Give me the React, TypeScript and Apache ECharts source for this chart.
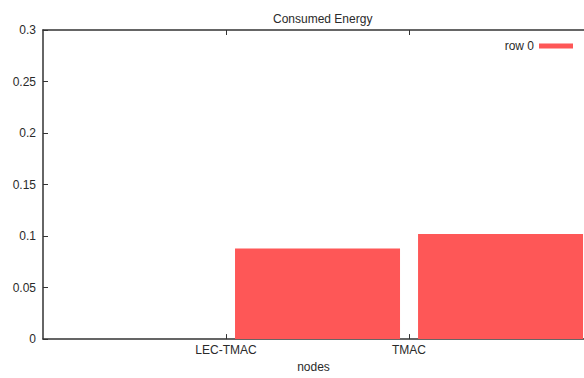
import React, { useEffect, useRef } from "react";
import * as echarts from "echarts";

const title = "Consumed Energy";
const xAxisTitle = "nodes";
const seriesName = "row 0";
const categories = ["LEC-TMAC", "TMAC"];
const values = [0.088, 0.102];
const yTicks = [0, 0.05, 0.1, 0.15, 0.2, 0.25, 0.3];
const xRange = [-1, 1.956];

const FONT = "Liberation Sans, Arial, Helvetica, sans-serif";
const TEXT = "#2a2a2a";
const LINE = "#333333";
const RED = "#fe5757";

export default function App() {
  const ref = useRef<HTMLDivElement>(null);
  useEffect(() => {
    if (!ref.current) return;
    const chart = echarts.init(ref.current, undefined, { renderer: "svg" });
    const catIdx = categories.map((_, i) => i);
    const barData = values.map((v, i) => [i + 0.5, v]);
    const yInterval = yTicks[1] - yTicks[0];
    const xCommon = {
      type: "value",
      min: xRange[0],
      max: xRange[1],
      interval: 1,
      splitLine: { show: false },
    };
    chart.setOption({
      animation: false,
      textStyle: { fontFamily: FONT },
      title: {
        text: title,
        left: 268,
        top: 8,
        textStyle: { fontSize: 12, fontWeight: "normal", color: TEXT, fontFamily: FONT },
      },
      legend: {
        data: [seriesName],
        right: 6,
        top: 35,
        align: "right",
        icon: "rect",
        itemWidth: 34,
        itemHeight: 5,
        textStyle: { fontSize: 12, color: TEXT, fontFamily: FONT },
      },
      grid: { left: 43, right: 0, top: 30, bottom: 33 },
      xAxis: [
        {
          ...xCommon,
          position: "bottom",
          name: xAxisTitle,
          nameLocation: "middle",
          nameGap: 21,
          nameTextStyle: { fontSize: 12, color: TEXT, fontFamily: FONT },
          axisLine: { show: true, onZero: false, lineStyle: { color: LINE, width: 1.5 } },
          axisTick: { show: true, inside: true, length: 5, customValues: catIdx, lineStyle: { color: LINE } },
          axisLabel: {
            show: true,
            customValues: catIdx,
            formatter: (v: number) => categories[Math.round(v)] ?? "",
            fontSize: 12,
            color: TEXT,
            margin: 5,
            fontFamily: FONT,
          },
        },
        {
          ...xCommon,
          position: "top",
          axisLine: { show: true, onZero: false, lineStyle: { color: LINE, width: 1.5 } },
          axisTick: { show: true, inside: true, length: 5, customValues: catIdx, lineStyle: { color: LINE } },
          axisLabel: { show: false },
        },
      ],
      yAxis: {
        type: "value",
        position: "left",
        min: yTicks[0],
        max: yTicks[yTicks.length - 1],
        interval: yInterval,
        axisLine: { show: true, onZero: false, lineStyle: { color: LINE, width: 1.5 } },
        axisTick: { show: true, inside: true, length: 5, lineStyle: { color: LINE } },
        axisLabel: {
          fontSize: 12,
          color: TEXT,
          margin: 7,
          fontFamily: FONT,
          formatter: (v: number) => String(+v.toFixed(2)),
        },
        splitLine: { show: false },
      },
      series: [
        {
          name: seriesName,
          type: "bar",
          xAxisIndex: 0,
          data: barData,
          barWidth: 165,
          itemStyle: { color: RED },
        },
      ],
    });
    return () => chart.dispose();
  }, []);
  return (
    <div
      ref={ref}
      style={{ position: "fixed", left: 0, top: 0, width: 584, height: 378, background: "#fff" }}
    />
  );
}
